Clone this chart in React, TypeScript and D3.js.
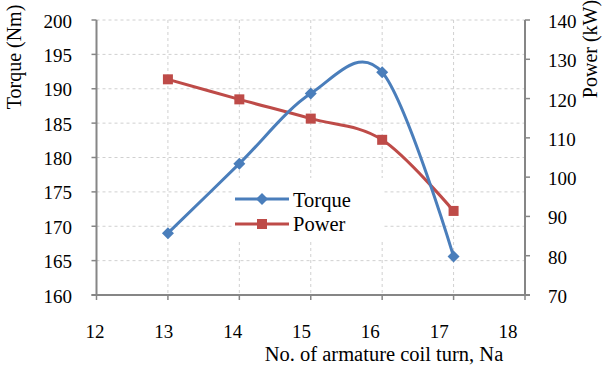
import React from "react";
import * as d3 from "d3";

const turns = [13, 14, 15, 16, 17];
const torque = [169.0, 179.1, 189.3, 192.4, 165.6];
const power = [124.9, 119.8, 114.9, 109.5, 91.4];
const xTicks = [12, 13, 14, 15, 16, 17, 18];
const leftTicks = [160, 165, 170, 175, 180, 185, 190, 195, 200];
const rightTicks = [70, 80, 90, 100, 110, 120, 130, 140];

const W = 603, H = 370;
const L = 96.5, R = 525, T = 20, B = 295;
const BLUE = "#4A7EBB";
const RED = "#BE4B48";
const AXIS = "#868686";
const GRID = "#D0D0D0";

function Txt(props: any) {
  const { children, size = 19, ...rest } = props;
  return (
    <text {...rest} fontFamily="Liberation Serif" fontSize={size} fill="#000" style={{ fontFamily: "Liberation Serif", fontSize: size + "px" }}>
      {children}
    </text>
  );
}

export default function App() {
  const x = d3.scaleLinear().domain([12, 18]).range([L, R]);
  const xLab = d3.scaleLinear().domain([12, 18]).range([95, 508]);
  const yL = d3.scaleLinear().domain([160, 200]).range([B, T]);
  const yR = d3.scaleLinear().domain([70, 140]).range([B, T]);
  const curve = d3.curveCardinal.tension(0);
  const torqueLine = d3.line<number>().x((_, i) => x(turns[i])).y((d) => yL(d)).curve(curve);
  const powerLine = d3.line<number>().x((_, i) => x(turns[i])).y((d) => yR(d)).curve(curve);

  const diamond = (cx: number, cy: number, r: number) =>
    `M${cx},${cy - r}L${cx + r},${cy}L${cx},${cy + r}L${cx - r},${cy}Z`;

  return (
    <svg width={W} height={H} style={{ position: "absolute", left: 0, top: 0, background: "#fff" }}>
      <rect width={W} height={H} fill="#fff" />
      {leftTicks.slice(1).map((v) => (
        <line key={"h" + v} x1={L} x2={R} y1={yL(v)} y2={yL(v)} stroke={GRID} strokeDasharray="3,3" strokeWidth={1} />
      ))}
      {xTicks.slice(1, -1).map((v) => (
        <line key={"v" + v} x1={x(v)} x2={x(v)} y1={T} y2={B} stroke={GRID} strokeDasharray="3,3" strokeWidth={1} />
      ))}
      <rect x={233} y={178} width={150} height={62} fill="#fff" />
      <line x1={L} x2={L} y1={T} y2={B} stroke={AXIS} strokeWidth={2} />
      <line x1={R} x2={R} y1={T} y2={B} stroke={AXIS} strokeWidth={2} />
      <line x1={L - 5} x2={R + 5} y1={B} y2={B} stroke={AXIS} strokeWidth={2} />
      {leftTicks.map((v) => (
        <line key={"lt" + v} x1={L - 5} x2={L} y1={yL(v)} y2={yL(v)} stroke={AXIS} strokeWidth={1.5} />
      ))}
      {rightTicks.map((v) => (
        <line key={"rt" + v} x1={R} x2={R + 5} y1={yR(v)} y2={yR(v)} stroke={AXIS} strokeWidth={1.5} />
      ))}
      {xTicks.map((v) => (
        <line key={"xt" + v} x1={x(v)} x2={x(v)} y1={B} y2={B + 5} stroke={AXIS} strokeWidth={1.5} />
      ))}
      {leftTicks.map((v) => (
        <Txt key={"ll" + v} x={72} y={yL(v) + 7.5} textAnchor="end">{v}</Txt>
      ))}
      {rightTicks.map((v) => (
        <Txt key={"rl" + v} x={548} y={yR(v) + 8} textAnchor="start">{v}</Txt>
      ))}
      {xTicks.map((v) => (
        <Txt key={"xl" + v} x={xLab(v)} y={338} textAnchor="middle">{v}</Txt>
      ))}
      <Txt transform="translate(21,57) rotate(-90)" textAnchor="middle" size={20}>Torque (Nm)</Txt>
      <Txt transform="translate(597,49) rotate(-90)" textAnchor="middle" size={20}>Power (kW)</Txt>
      <Txt x={384} y={361} textAnchor="middle" size={20.5}>No. of armature coil turn, Na</Txt>
      <path d={powerLine(power) || ""} fill="none" stroke={RED} strokeWidth={3} />
      <path d={torqueLine(torque) || ""} fill="none" stroke={BLUE} strokeWidth={3} />
      {power.map((v, i) => (
        <rect key={"pm" + i} x={x(turns[i]) - 5} y={yR(v) - 5} width={10} height={10} fill={RED} />
      ))}
      {torque.map((v, i) => (
        <path key={"tm" + i} d={diamond(x(turns[i]), yL(v), 6)} fill={BLUE} />
      ))}
      <line x1={235} x2={289} y1={199} y2={199} stroke={BLUE} strokeWidth={3} />
      <path d={diamond(262, 199, 6)} fill={BLUE} />
      <Txt x={293} y={207} size={20.5}>Torque</Txt>
      <line x1={235} x2={289} y1={224} y2={224} stroke={RED} strokeWidth={3} />
      <rect x={257} y={219} width={10} height={10} fill={RED} />
      <Txt x={293} y={231} size={20.5}>Power</Txt>
    </svg>
  );
}
